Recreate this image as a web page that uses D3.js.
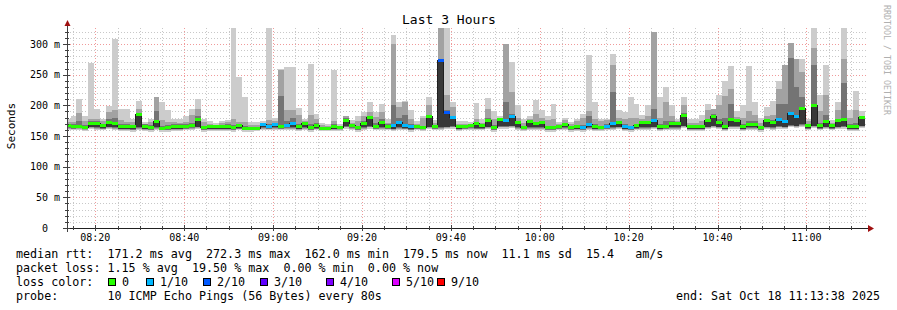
<!DOCTYPE html>
<html>
<head>
<meta charset="utf-8">
<script src="https://cdn.jsdelivr.net/npm/d3@7"></script>
<style>
  body { margin: 0; background: #fff; }
  text { font-family: "DejaVu Sans Mono", monospace; fill: #000; }
</style>
</head>
<body>
<svg id="chart" width="897" height="310"></svg>
<script>
// time window of the graph and the probe schedule
const startTime = new Date(2025, 9, 18, 8, 13, 38);
const endTime = new Date(2025, 9, 18, 11, 13, 38);
const firstSample = new Date(2025, 9, 18, 8, 13, 6);
const stepSec = 80;

// median rtt per 80s round (ms)
const medianMs = [
  167.4,165.8,165.8,164.1,171.2,170.1,167.4,172.8,170.1,166.3,
  166.3,164.7,184.8,166.3,164.1,173.9,162.0,164.1,165.8,166.3,
  166.3,167.4,177.7,163.1,165.8,165.2,164.7,166.3,163.1,167.4,
  162.2,162.4,162.3,168.5,166.3,168.5,166.3,167.4,170.1,164.7,
  170.1,163.1,167.4,162.5,162.1,165.8,163.1,175.6,167.4,163.1,
  170.1,179.9,166.3,171.7,166.3,167.4,171.7,167.4,164.7,166.3,
  163.6,182.1,166.3,272.3,189.1,179.4,164.7,165.8,167.4,170.1,
  167.4,175.6,163.1,176.6,175.6,181.0,171.7,163.1,173.9,169.6,
  171.7,163.1,163.1,165.8,168.5,163.1,164.7,164.1,168.5,165.8,
  164.1,166.3,170.1,171.7,166.3,163.1,167.4,172.8,171.7,175.6,
  165.2,166.3,171.2,170.1,183.7,165.8,165.8,164.7,174.5,181.5,
  172.8,164.7,177.2,175.6,165.8,169.0,169.0,163.1,174.5,171.7,
  176.1,173.9,185.9,182.1,194.6,167.4,200.0,167.4,173.9,167.4,
  174.5,176.1,165.8,165.8,179.5
];

// slowest ping of each round (top of light smoke)
const maxMs = [
  178.3,182,209.8,182,269,193.5,178.3,198.9,307.6,193.5,
  193.5,178.3,207,172.8,178.3,213.6,205.4,191.9,178.3,177.2,
  182.6,193.5,209.8,178.3,173.9,171.2,173.9,176.6,326,246.2,
  213.6,172.8,172.8,173.9,326,180,259,262.5,262.5,195.7,
  178.3,268,186.4,172,170,258.2,170,182,175.6,182.1,
  189,205,189,201.6,178.3,315.3,205,207,192,174,
  182,213.6,175.6,326,326,205,174,174,172.8,203.8,
  178,212,190.2,182,300,270.7,200,178.3,182,209.3,
  192,182,202.2,172.8,179.4,172.8,178.3,186.4,282.6,205.4,
  178.3,178.3,283.2,192,189,213.6,202.7,183.7,200,319.6,
  213.6,230,200,178.3,213.6,178.3,178.3,183.7,202.7,194.6,
  217.4,239.2,263.6,190.2,200,263.6,205.4,179.4,197.3,207.6,
  239.2,265.2,301.6,276.1,276.1,178.3,326,217.4,265.2,175.6,
  205.4,326,191.9,223.5,190
];

// second-slowest band top (middle smoke)
const midMs = [
  172.8,172.8,188,173.9,178,178,173.9,189,192,175.6,
  172.8,172.8,193.5,170.1,172.8,213.6,175.6,172.8,172.8,171.7,
  172.8,183.7,193.5,172.8,170.1,168.5,171.2,172.8,178.3,172.8,
  172.8,168.5,168.5,171.2,176,175,257,192,192,185,
  174,185,178,168,166,175,167,182,172,175,
  183,189,181,189,172,300,197,205,178,170,
  179,200,171,326,217,197,170,170,170,178,
  172,193.5,178,180,300,222,180,172,178,186,
  180,176,178,170,176,170,175,180,190,178,
  174,176,265,180,178,180,180,178,183,319.6,
  180,205,182,174,200,172,172,174,191.9,194.6,
  200,215.2,227.2,181,180,190,185,172,182,185,
  227.2,265.2,301.6,276.1,254.4,174,293.5,190,217.4,172,
  191.9,276.1,180,191.9,183
];

// inner band top (dark smoke)
const coreMs = [
  170,169,175,168,174,174,170,178,180,170,
  169,168,186,169,168,190,166,168,169,169,
  169,172,182,166,168,167,168,169,168,170,
  166,165,165,170,170,171,215,175,180,170,
  172,170,171,165,164,169,165,180,170,167,
  175,181,172,178,169,200,180,185,170,168,
  167,185,168,272,192,183,167,168,168,173,
  169,180,168,178,205,186,174,166,176,173,
  174,167,167,168,171,166,167,168,182,169,
  167,169,221,174,170,167,170,175,175,194.6,
  169,175,174,172,188,168,168,167,178,186,
  178,180,202,178,169,175,174,166,177,176,
  202,202,277,230,213.6,170,265,172,185,170,
  178,236,170,172,182
];

// fastest ping of each round
const minMs = [
  160,159,160,158,161,160,159,161,160,158,
  158,157,160,158,157,160,157,157,158,158,
  159,160,161,157,158,158,158,158,157,159,
  157,157,158,160,159,160,159,160,160,158,
  160,157,159,158,158,158,158,162,160,157,
  160,162,159,160,159,158,160,159,157,159,
  158,161,159,160,161,162,158,159,160,159,
  159,161,157,162,162,163,160,158,160,160,
  160,157,157,159,160,157,158,157,160,158,
  158,159,160,161,158,157,159,160,160,161,
  158,159,160,160,163,158,158,158,161,163,
  161,158,162,162,158,160,160,157,161,160,
  162,161,164,163,165,159,163,159,161,159,
  161,162,158,158,163
];

// lost pings out of 10
const lossCount = [
  0,0,0,0,0,0,0,0,0,0,
  0,0,0,0,0,0,0,0,0,0,
  0,0,0,0,0,0,0,0,0,0,
  0,0,0,1,1,1,0,1,1,0,
  0,0,0,0,0,0,0,0,0,0,
  0,0,0,0,0,1,1,1,1,0,
  0,0,0,2,2,1,0,0,0,0,
  0,0,0,0,1,1,0,0,0,0,
  0,0,0,0,0,0,0,1,1,0,
  0,1,1,0,1,1,0,0,0,1,
  0,0,0,0,0,0,0,0,0,0,
  0,0,0,0,0,0,0,0,0,0,
  1,1,1,1,0,0,0,0,0,0,
  0,0,0,0,0
];

const lossLabels = ["0", "1/10", "2/10", "3/10", "4/10", "5/10", "9/10"];
const lossColors = ["#26ff00", "#00b8ff", "#0059ff", "#5e00ff", "#7e00ff", "#dd00ff", "#ff0000"];
const yTicks = [0, 50, 100, 150, 200, 250, 300];

const legendLines = [
  "median rtt:  171.2 ms avg  272.3 ms max  162.0 ms min  179.5 ms now  11.1 ms sd  15.4   am/s",
  "packet loss: 1.15 % avg  19.50 % max  0.00 % min  0.00 % now",
  "loss color:",
  "probe:       10 ICMP Echo Pings (56 Bytes) every 80s"
];
const endLabel = "end: Sat Oct 18 11:13:38 2025";

const svg = d3.select("#chart");
const plot = {left: 67, right: 867, top: 28, bottom: 228};

const x = d3.scaleTime().domain([startTime, endTime]).range([plot.left, plot.right]);
const y = d3.scaleLinear().domain([0, 326.1]).range([plot.bottom, plot.top]);

const rounds = medianMs.map((m, i) => {
  const t0 = new Date(firstSample.getTime() + i * stepSec * 1000);
  const t1 = new Date(t0.getTime() + stepSec * 1000);
  return {t0, t1, med: m, max: maxMs[i], mid: midMs[i], core: coreMs[i], min: minMs[i], loss: lossCount[i]};
});

// grid
const grid = svg.append("g").attr("shape-rendering", "crispEdges");
const minorY = d3.range(10, 326, 10).filter(v => v % 50 !== 0);
grid.selectAll(".hmin").data(minorY).enter().append("line")
  .attr("x1", plot.left).attr("x2", plot.right)
  .attr("y1", d => Math.round(y(d)) + 0.5).attr("y2", d => Math.round(y(d)) + 0.5)
  .attr("stroke", "#c8c8c8").attr("stroke-dasharray", "1,2");
const minorX = x.ticks(d3.timeMinute.every(5)).filter(d => d.getMinutes() % 20 !== 0);
grid.selectAll(".vmin").data(minorX).enter().append("line")
  .attr("x1", d => Math.round(x(d)) + 0.5).attr("x2", d => Math.round(x(d)) + 0.5)
  .attr("y1", plot.top).attr("y2", plot.bottom)
  .attr("stroke", "#c8c8c8").attr("stroke-dasharray", "1,2");
grid.selectAll(".hmaj").data(yTicks.filter(v => v > 0)).enter().append("line")
  .attr("x1", plot.left).attr("x2", plot.right)
  .attr("y1", d => Math.round(y(d)) + 0.5).attr("y2", d => Math.round(y(d)) + 0.5)
  .attr("stroke", "#f09a9a").attr("stroke-dasharray", "1,2");
const majorX = x.ticks(d3.timeMinute.every(20));
grid.selectAll(".vmaj").data(majorX).enter().append("line")
  .attr("x1", d => Math.round(x(d)) + 0.5).attr("x2", d => Math.round(x(d)) + 0.5)
  .attr("y1", plot.top).attr("y2", plot.bottom)
  .attr("stroke", "#f09a9a").attr("stroke-dasharray", "1,2");

// smoke
svg.append("clipPath").attr("id", "clip").append("rect")
  .attr("x", plot.left).attr("y", plot.top)
  .attr("width", plot.right - plot.left).attr("height", plot.bottom - plot.top);
const smoke = svg.append("g").attr("clip-path", "url(#clip)").attr("shape-rendering", "crispEdges");

function band(cls, lo, hi, color) {
  smoke.selectAll("." + cls).data(rounds).enter().append("rect")
    .attr("x", d => x(d.t0))
    .attr("width", d => x(d.t1) - x(d.t0))
    .attr("y", d => y(hi(d)))
    .attr("height", d => Math.max(0, y(lo(d)) - y(hi(d))))
    .attr("fill", color);
}
band("l1", d => d.min, d => d.max, "#cccccc");
band("l2", d => d.min + 2, d => d.mid, "#a2a2a2");
band("l3", d => d.min + 3, d => d.core, "#747474");
band("l4", d => d.min + 4, d => d.med, "#383838");

// median step line
const stepPts = [];
rounds.forEach(d => { stepPts.push([x(d.t0), y(d.med)]); stepPts.push([x(d.t1), y(d.med)]); });
smoke.append("path")
  .attr("d", d3.line()(stepPts))
  .attr("fill", "none").attr("stroke", "#202020").attr("stroke-width", 1);

// loss-coloured median bars
const lossIndex = n => n <= 5 ? n : 6;
smoke.selectAll(".medbar").data(rounds).enter().append("rect")
  .attr("x", d => x(d.t0))
  .attr("width", d => x(d.t1) - x(d.t0))
  .attr("y", d => y(d.med) - 1.5)
  .attr("height", 3)
  .attr("fill", d => lossColors[lossIndex(d.loss)]);

// axes
const ax = svg.append("g").attr("shape-rendering", "crispEdges");
ax.append("line").attr("x1", plot.left + 0.5).attr("x2", plot.left + 0.5)
  .attr("y1", plot.bottom + 4).attr("y2", 22).attr("stroke", "#404040");
ax.append("line").attr("x1", plot.left - 4).attr("x2", 869)
  .attr("y1", plot.bottom + 0.5).attr("y2", plot.bottom + 0.5).attr("stroke", "#202020");
ax.selectAll(".ytm").data(minorY).enter().append("line")
  .attr("x1", plot.left - 2).attr("x2", plot.left + 2)
  .attr("y1", d => Math.round(y(d)) + 0.5).attr("y2", d => Math.round(y(d)) + 0.5)
  .attr("stroke", "#404040");
ax.selectAll(".ytM").data(yTicks).enter().append("line")
  .attr("x1", plot.left - 4).attr("x2", plot.left + 3)
  .attr("y1", d => Math.round(y(d)) + 0.5).attr("y2", d => Math.round(y(d)) + 0.5)
  .attr("stroke", "#404040");
ax.selectAll(".xtm").data(minorX).enter().append("line")
  .attr("x1", d => Math.round(x(d)) + 0.5).attr("x2", d => Math.round(x(d)) + 0.5)
  .attr("y1", plot.bottom - 2).attr("y2", plot.bottom + 2).attr("stroke", "#404040");
ax.selectAll(".xtM").data(majorX).enter().append("line")
  .attr("x1", d => Math.round(x(d)) + 0.5).attr("x2", d => Math.round(x(d)) + 0.5)
  .attr("y1", plot.bottom - 3).attr("y2", plot.bottom + 3).attr("stroke", "#404040");

// arrows
svg.append("path").attr("d", "M64.5,26 L67.5,20 L70.5,26 Z").attr("fill", "#a01010");
svg.append("path").attr("d", "M868,225 L874,228.5 L868,232 Z").attr("fill", "#a01010");

// y labels
const yl = svg.append("g").style("font-size", "10px");
yl.selectAll(".yn").data(yTicks).enter().append("text")
  .attr("x", 48).attr("y", d => y(d) + 3.5).attr("text-anchor", "end")
  .text(d => d);
yl.selectAll(".yu").data(yTicks.filter(v => v > 0)).enter().append("text")
  .attr("x", 54).attr("y", d => y(d) + 3.5)
  .text("m");

// x labels
svg.append("g").style("font-size", "10px")
  .selectAll("text").data(majorX).enter().append("text")
  .attr("x", d => x(d)).attr("y", 241).attr("text-anchor", "middle")
  .text(d3.timeFormat("%H:%M"));

// title and side texts
svg.append("text").attr("x", 449).attr("y", 24).attr("text-anchor", "middle")
  .style("font-size", "13px").text("Last 3 Hours");
svg.append("text").attr("transform", "translate(15,126) rotate(-90)")
  .attr("text-anchor", "middle").style("font-size", "11px").text("Seconds");
svg.append("text").attr("transform", "translate(884,5) rotate(90)")
  .style("font-size", "8.3px").style("fill", "#b0b0b0").text("RRDTOOL / TOBI OETIKER");

// legend
const leg = svg.append("g").style("font-size", "11.7px");
legendLines.forEach((s, i) => {
  leg.append("text").attr("x", 16).attr("y", 257.5 + i * 14.25)
    .attr("xml:space", "preserve").style("white-space", "pre").text(s);
});
const swatchX = [108, 146, 203, 260, 326, 392, 437];
lossLabels.forEach((lab, i) => {
  leg.append("rect").attr("x", swatchX[i] + 0.5).attr("y", 278.5)
    .attr("width", 7).attr("height", 7)
    .attr("fill", lossColors[i]).attr("stroke", "#000").attr("shape-rendering", "crispEdges");
  leg.append("text").attr("x", swatchX[i] + 14).attr("y", 286).text(lab);
});
leg.append("text").attr("x", 880).attr("y", 300.3).attr("text-anchor", "end").text(endLabel);
</script>
</body>
</html>
